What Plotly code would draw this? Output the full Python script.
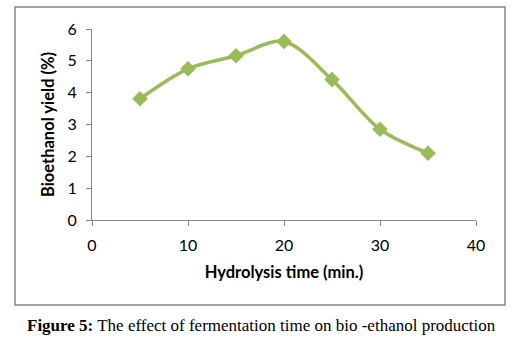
import plotly.graph_objects as go

time_min = [5, 10, 15, 20, 25, 30, 35]
yield_pct = [3.81, 4.75, 5.16, 5.61, 4.41, 2.85, 2.10]

x_ticks = [0, 10, 20, 30, 40]
y_ticks = [0, 1, 2, 3, 4, 5, 6]

W, H = 524, 341
L, R, T, B = 92, 476, 29, 220
pw, ph = R - L, B - T

def px(x):
    return (x - L) / pw

def py(y):
    return (B - y) / ph

fig = go.Figure()
fig.add_trace(go.Scatter(
    x=time_min, y=yield_pct, mode="lines+markers",
    line=dict(color="#9BBB59", width=3.5, shape="spline", smoothing=0.9),
    marker=dict(symbol="diamond", size=12, color="#9BBB59"),
    showlegend=False, cliponaxis=False,
))

tick_font = dict(family="Lato, Open Sans, sans-serif", size=16, color="#000000")
title_font = dict(family="Lato, Open Sans, sans-serif", size=16.5, color="#000000")

fig.update_layout(
    width=W, height=H,
    margin=dict(l=L, r=W - R, t=T, b=H - B),
    paper_bgcolor="white", plot_bgcolor="white",
    xaxis=dict(range=[0, 40], tickvals=x_ticks, showgrid=False, zeroline=False,
               showline=True, linecolor="#868686", linewidth=1,
               ticks="outside", ticklen=5, tickcolor="#868686",
               tickfont=tick_font, ticklabelstandoff=6,
               title=dict(text="<b>Hydrolysis time (min.)</b>", font=title_font, standoff=13)),
    yaxis=dict(range=[0, 6], tickvals=y_ticks, showgrid=False, zeroline=False,
               showline=True, linecolor="#868686", linewidth=1,
               ticks="outside", ticklen=5, tickcolor="#868686",
               tickfont=tick_font, ticklabelstandoff=6,
               title=dict(text="<b>Bioethanol yield (%)</b>", font=title_font, standoff=8)),
    shapes=[dict(type="rect", xref="paper", yref="paper",
                 x0=px(15), x1=px(505), y0=py(305), y1=py(7),
                 line=dict(color="#868686", width=1.5), fillcolor="rgba(0,0,0,0)")],
    annotations=[dict(xref="paper", yref="paper", x=px(261), y=py(325),
                      text="<b>Figure 5:</b> The effect of fermentation time on bio -ethanol production",
                      showarrow=False, xanchor="center", yanchor="middle",
                      font=dict(family="Liberation Serif, Times New Roman, serif", size=17, color="#000000"))],
)

fig.write_html("out.html")
